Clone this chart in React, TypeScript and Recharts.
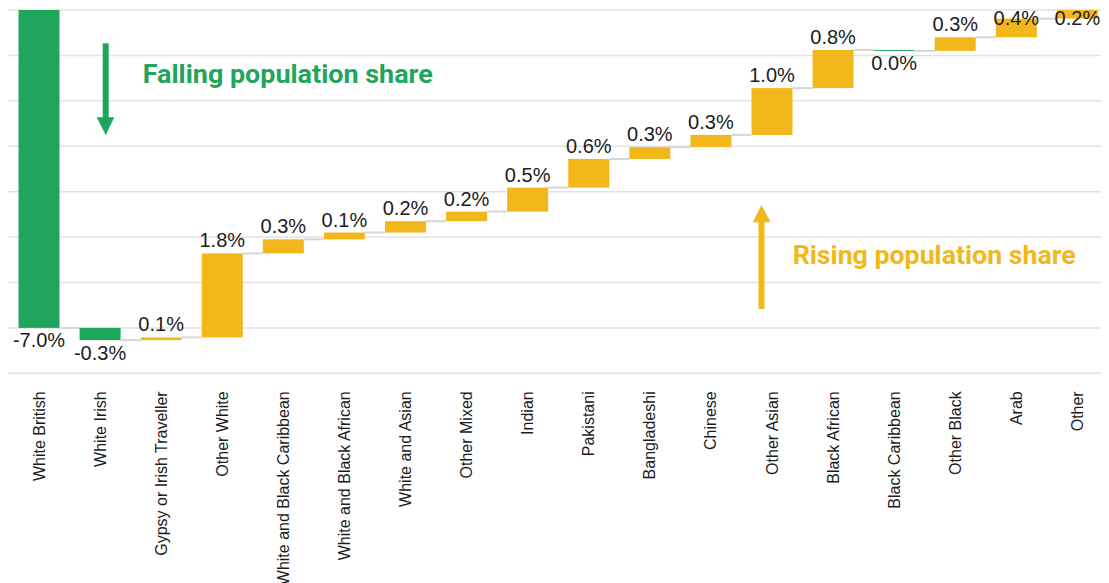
import { Bar, BarChart, CartesianGrid, Cell, LabelList, XAxis, YAxis } from 'recharts'

const CATEGORIES = [
  'White British',
  'White Irish',
  'Gypsy or Irish Traveller',
  'Other White',
  'White and Black Caribbean',
  'White and Black African',
  'White and Asian',
  'Other Mixed',
  'Indian',
  'Pakistani',
  'Bangladeshi',
  'Chinese',
  'Other Asian',
  'Black African',
  'Black Caribbean',
  'Other Black',
  'Arab',
  'Other',
]

// change in population share, percentage points
const CHANGES = [
  -7.0, -0.27, 0.06, 1.85, 0.31, 0.15, 0.25, 0.21, 0.53, 0.63, 0.26, 0.27, 1.03,
  0.84, -0.02, 0.3, 0.41, 0.19,
]

// printed labels (rounded figures as shown on the chart)
const VALUE_LABELS = [
  '-7.0%', '-0.3%', '0.1%', '1.8%', '0.3%', '0.1%', '0.2%', '0.2%', '0.5%',
  '0.6%', '0.3%', '0.3%', '1.0%', '0.8%', '0.0%', '0.3%', '0.4%', '0.2%',
]

const Y_TICKS = [-8, -7, -6, -5, -4, -3, -2, -1, 0]

const GREEN = '#1fa55c'
const AMBER = '#f2b71b'
const GRID = '#e2e2e2'
const CONNECTOR = '#d6d6d6'
const TEXT = '#1c1c1c'

const CHART_WIDTH = 1101
const CHART_HEIGHT = 575
const MARGIN = { top: 2, right: 1, left: 0.5, bottom: 0 }
const BAR_SIZE = 41
const BAND = (CHART_WIDTH - MARGIN.left - MARGIN.right) / CATEGORIES.length

type Step = {
  name: string
  change: number
  start: number
  end: number
  range: [number, number]
  label: string
}

function buildSteps(): Step[] {
  let level = 0
  return CATEGORIES.map((name, i) => {
    const start = level
    const end = level + CHANGES[i]
    level = end
    return {
      name,
      change: CHANGES[i],
      start,
      end,
      range: [Math.min(start, end), Math.max(start, end)] as [number, number],
      label: VALUE_LABELS[i],
    }
  })
}

const steps = buildSteps()

function StepBar(props: any) {
  const { x, y, width, height, index, fill } = props
  const step = steps[index]
  if (step == null) return null
  const endY = step.change < 0 ? y + height : y
  const last = index === steps.length - 1
  return (
    <g>
      <rect x={x} y={y} width={width} height={Math.max(height, 0.9)} fill={fill} />
      {!last && (
        <line
          x1={x + width}
          x2={x + BAND}
          y1={endY}
          y2={endY}
          stroke={CONNECTOR}
          strokeWidth={2}
        />
      )}
    </g>
  )
}

function ValueLabel(props: any) {
  const { x, y, width, height, index } = props
  const step = steps[index]
  if (step == null) return null
  const cx = Number(x) + Number(width) / 2
  const top = Number(y)
  const bottom = Number(y) + Number(height)
  // labels never climb above the top of the plot
  const baseline = step.change < 0 ? bottom + 19.5 : Math.max(top - 6, 17)
  return (
    <text
      x={cx}
      y={baseline}
      textAnchor="middle"
      fill={TEXT}
      fontSize={20}
      fontFamily="'Liberation Sans', Arial, sans-serif"
    >
      {step.label}
    </text>
  )
}

function CategoryTick(props: any) {
  const { x, y, payload } = props
  return (
    <text
      transform={`translate(${x},${y + 18}) rotate(-90)`}
      textAnchor="end"
      dominantBaseline="central"
      fill={TEXT}
      fontSize={16}
      fontFamily="'Liberation Sans', Arial, sans-serif"
    >
      {payload.value}
    </text>
  )
}

function Annotations() {
  // page coordinates shifted by the 8px body margin
  return (
    <svg
      width={CHART_WIDTH}
      height={CHART_HEIGHT}
      style={{ position: 'absolute', left: 0, top: 0, pointerEvents: 'none' }}
    >
      <rect x={94.7} y={35.3} width={6} height={75} fill={GREEN} />
      <path d="M88.7 109.3 L106.3 109.3 L97.7 127 Z" fill={GREEN} />
      <text
        x={134.7}
        y={75.3}
        fill={GREEN}
        fontSize={26}
        fontWeight={700}
        fontFamily="Roboto, 'Liberation Sans', sans-serif"
        textLength={290}
        lengthAdjust="spacingAndGlyphs"
      >
        Falling population share
      </text>
      <rect x={750.5} y={213} width={6} height={88} fill={AMBER} />
      <path d="M744.7 214.3 L762.7 214.3 L753.5 197 Z" fill={AMBER} />
      <text
        x={784.7}
        y={256}
        fill={AMBER}
        fontSize={26}
        fontWeight={700}
        fontFamily="Roboto, 'Liberation Sans', sans-serif"
        textLength={283}
        lengthAdjust="spacingAndGlyphs"
      >
        Rising population share
      </text>
    </svg>
  )
}

export default function App() {
  return (
    <div style={{ position: 'relative', width: CHART_WIDTH, height: CHART_HEIGHT }}>
      <BarChart width={CHART_WIDTH} height={CHART_HEIGHT} data={steps} margin={MARGIN}>
        <CartesianGrid vertical={false} stroke={GRID} strokeWidth={1.5} />
        <XAxis
          dataKey="name"
          interval={0}
          axisLine={false}
          tickLine={false}
          tickSize={0}
          tickMargin={0}
          height={209.7}
          tick={<CategoryTick />}
        />
        <YAxis hide domain={[-8, 0]} ticks={Y_TICKS} />
        <Bar
          dataKey="range"
          barSize={BAR_SIZE}
          isAnimationActive={false}
          shape={(p: any) => <StepBar {...p} />}
        >
          {steps.map((s) => (
            <Cell key={s.name} fill={s.change < 0 ? GREEN : AMBER} />
          ))}
          <LabelList content={<ValueLabel />} />
        </Bar>
      </BarChart>
      <Annotations />
    </div>
  )
}
